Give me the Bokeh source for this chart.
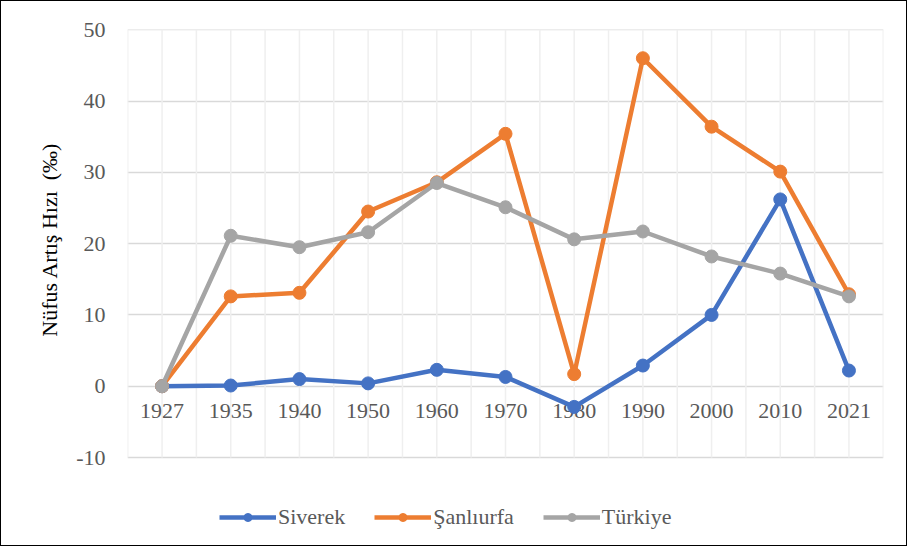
from bokeh.plotting import figure
from bokeh.models import Range1d, FixedTicker, Legend, LegendItem
from bokeh.core.properties import value
from bokeh.embed import file_html
from bokeh.resources import INLINE
import numpy as np

years = ["1927", "1935", "1940", "1950", "1960", "1970", "1980", "1990", "2000", "2010", "2021"]
siverek = [0.0, 0.1, 1.0, 0.4, 2.3, 1.3, -2.9, 2.9, 10.0, 26.2, 2.2]
sanliurfa = [0.0, 12.6, 13.1, 24.5, 28.6, 35.4, 1.7, 46.0, 36.4, 30.1, 12.9]
turkiye = [0.0, 21.1, 19.5, 21.6, 28.5, 25.1, 20.6, 21.7, 18.2, 15.8, 12.6]
series = [("Siverek", siverek, "#4472C4"), ("Şanlıurfa", sanliurfa, "#ED7D31"), ("Türkiye", turkiye, "#A5A5A5")]
y_ticks = [-10, 0, 10, 20, 30, 40, 50]

FONT = "Liberation Serif"
n = len(years)
xs = np.arange(n) + 0.5

# plot area is 428px tall for -10..50; the frame is extended below to host the legend
PLOT_H = 428
FRAME_H = 508
px_per_unit = PLOT_H / (y_ticks[-1] - y_ticks[0])
y_start = y_ticks[-1] - FRAME_H / px_per_unit

p = figure(frame_width=756, frame_height=FRAME_H, output_backend="svg", toolbar_location=None,
           x_axis_location=None,
           x_range=Range1d(-0.003, n + 0.003), y_range=Range1d(y_start, y_ticks[-1] + 0.03),
           min_border_left=126, min_border_right=23, min_border_top=28, min_border_bottom=8)
p.outline_line_color = None
p.background_fill_color = "white"
p.styles = {"border": "1.5px solid black", "box-sizing": "border-box"}

# vertical grid lines limited to the plot area (-10..50)
gx = np.arange(0, n + 0.5, 0.5)
p.xgrid.visible = False
p.segment(x0=gx, y0=[y_ticks[0]] * len(gx), x1=gx, y1=[y_ticks[-1]] * len(gx),
          line_color="#EFEFEF", line_width=1.5)

# category labels sit just under the zero line
p.text(x=xs, y=[0] * n, text=years, y_offset=18, text_align="center", text_baseline="top",
       text_font=value(FONT), text_font_size="22px", text_color="#595959")

p.yaxis.ticker = FixedTicker(ticks=y_ticks)
p.yaxis.major_label_overrides = {t: str(t) for t in y_ticks}
p.yaxis.axis_line_color = None
p.yaxis.major_tick_line_color = None
p.yaxis.minor_tick_line_color = None
p.yaxis.major_label_text_font = FONT
p.yaxis.major_label_text_font_size = "22px"
p.yaxis.major_label_text_color = "#595959"
p.yaxis.major_label_standoff = 16
# leading no-break spaces keep the label centred on the -10..50 area, not the extended frame
p.yaxis.axis_label = "\u00a0" * 16 + "Nüfus Artış Hızı \u00a0(‰)"
p.yaxis.axis_label_text_font = FONT
p.yaxis.axis_label_text_font_size = "22px"
p.yaxis.axis_label_text_font_style = "normal"
p.yaxis.axis_label_text_color = "black"
p.yaxis.axis_label_standoff = 11

p.ygrid.ticker = FixedTicker(ticks=y_ticks)
p.ygrid.grid_line_color = "#D9D9D9"
p.ygrid.grid_line_width = 1.5

items = []
for name, vals, color in series:
    l = p.line(xs, vals, line_color=color, line_width=4.5)
    c = p.scatter(xs, vals, size=13, fill_color=color, line_color=color)
    items.append(LegendItem(label=name, renderers=[l, c]))

legend = Legend(items=items, orientation="horizontal", location=(92, 7))
legend.label_text_font = FONT
legend.label_text_font_size = "22px"
legend.label_text_color = "#595959"
legend.glyph_width = 57
legend.glyph_height = 20
legend.label_standoff = 2
legend.spacing = 29
legend.padding = 10
legend.margin = 0
legend.border_line_color = None
legend.background_fill_alpha = 0
p.add_layout(legend, "center")

open("out.html", "w").write(file_html(p, INLINE))
